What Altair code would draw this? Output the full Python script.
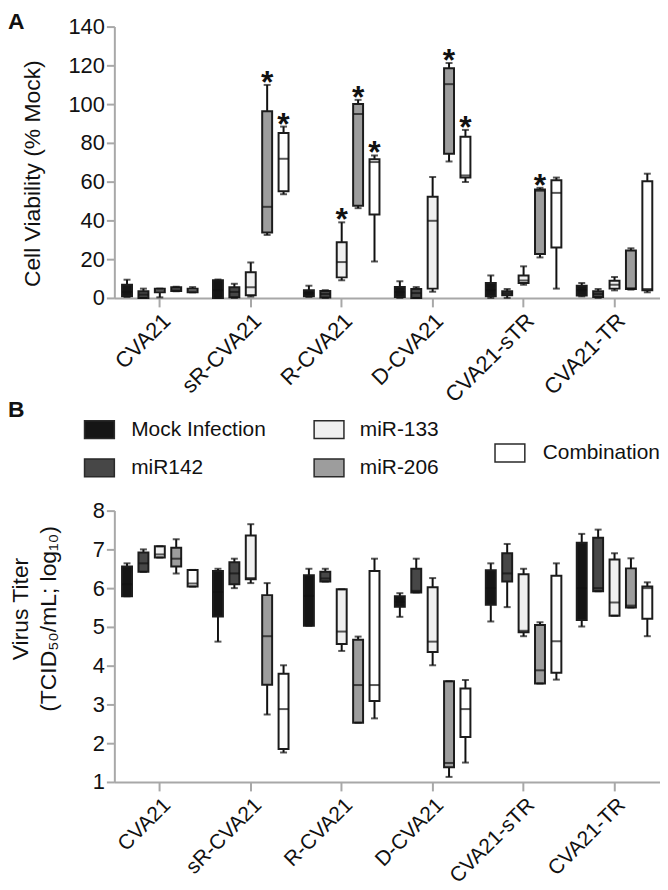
import altair as alt
import pandas as pd

FONT = "Liberation Sans"

groups = ["CVA21", "sR-CVA21", "R-CVA21", "D-CVA21", "CVA21-sTR", "CVA21-TR"]
series = ["Mock Infection", "miR142", "miR-133", "miR-206", "Combination"]
fills = ["#151515", "#474747", "#f0f0f0", "#9d9d9d", "#ffffff"]

# ---- Panel A: Cell viability (% Mock); group by group, series in order above
a_low = [0.5, 0.0, 0.3, 3.4, 2.9,
         0.0, 0.0, 0.7, 32.5, 53.5,
         0.5, 0.0, 9.1, 46.3, 18.8,
         0.0, 0.0, 3.2, 70.4, 59.8,
         0.0, 0.0, 6.8, 20.9, 4.8,
         0.8, 0.0, 3.9, 4.3, 2.9]
a_q1 = [0.9, 0.0, 2.9, 3.6, 2.9,
        0.0, 0.4, 1.4, 33.7, 55.0,
        0.9, 0.2, 10.6, 47.5, 43.1,
        0.5, 0.0, 4.8, 74.4, 62.1,
        0.9, 1.4, 7.7, 22.7, 26.0,
        1.2, 0.5, 4.8, 4.6, 3.9]
a_med = [3.0, 1.7, 3.9, 4.5, 3.9,
         4.0, 3.1, 5.5, 47.0, 71.8,
         2.5, 2.0, 18.5, 94.9, 70.1,
         3.0, 2.5, 39.8, 110.3, 63.2,
         4.0, 2.4, 9.0, 55.3, 54.2,
         4.0, 2.0, 6.8, 5.0, 4.6]
a_q3 = [6.8, 3.4, 4.8, 5.5, 4.8,
        9.1, 5.5, 13.2, 96.3, 85.1,
        3.9, 3.6, 28.7, 100.0, 71.6,
        5.6, 4.6, 52.2, 118.5, 83.2,
        7.7, 3.4, 11.6, 56.0, 60.7,
        6.3, 3.4, 8.9, 24.5, 60.2]
a_high = [9.4, 4.8, 4.8, 5.8, 5.6,
          9.5, 7.3, 18.3, 109.9, 88.4,
          6.3, 4.0, 39.0, 102.2, 73.5,
          8.6, 5.6, 62.4, 121.2, 86.7,
          11.6, 4.6, 16.3, 56.8, 62.1,
          7.7, 4.6, 10.8, 25.6, 64.1]
a_star = [0, 0, 0, 0, 0,
          0, 0, 0, 1, 1,
          0, 0, 1, 1, 1,
          0, 0, 0, 1, 1,
          0, 0, 0, 1, 0,
          0, 0, 0, 0, 0]

# ---- Panel B: Virus titer (log10 TCID50/mL)
b_low = [5.79, 6.42, 6.79, 6.38, 6.04,
         4.62, 6.00, 6.13, 2.74, 1.76,
         5.03, 6.17, 4.38, 2.53, 2.64,
         5.26, 5.89, 4.01, 1.13, 1.50,
         5.14, 5.51, 4.76, 3.54, 3.64,
         5.01, 5.92, 5.29, 5.50, 4.76]
b_q1 = [5.79, 6.42, 6.79, 6.56, 6.04,
        5.27, 6.10, 6.23, 3.51, 1.85,
        5.03, 6.17, 4.56, 2.53, 3.09,
        5.52, 5.89, 4.35, 1.38, 2.16,
        5.57, 6.17, 4.86, 3.54, 3.82,
        5.18, 5.92, 5.29, 5.50, 5.21]
b_med = [6.10, 6.64, 6.87, 6.76, 6.12,
         5.90, 6.38, 6.26, 4.76, 2.88,
         5.80, 6.25, 4.88, 3.50, 3.50,
         5.65, 5.93, 4.62, 1.49, 2.88,
         6.00, 6.38, 4.90, 3.88, 4.63,
         6.00, 6.00, 5.63, 5.55, 6.00]
b_q3 = [6.56, 6.92, 7.08, 7.04, 6.47,
        6.44, 6.67, 7.36, 5.82, 3.79,
        6.33, 6.42, 5.97, 4.67, 6.44,
        5.79, 6.50, 6.02, 3.60, 3.41,
        6.46, 6.90, 6.36, 5.05, 6.32,
        7.17, 7.30, 6.74, 6.51, 6.04]
b_high = [6.64, 7.00, 7.08, 7.26, 6.47,
          6.50, 6.76, 7.65, 6.13, 4.01,
          6.50, 6.50, 5.97, 4.75, 6.76,
          5.87, 6.76, 6.26, 3.60, 3.63,
          6.64, 7.14, 6.50, 5.12, 6.64,
          7.40, 7.51, 6.90, 6.77, 6.15]

a_ticks = [0, 20, 40, 60, 80, 100, 120, 140]
b_ticks = [1, 2, 3, 4, 5, 6, 7, 8]

a_title = ["Cell Viability (% Mock)"]
b_title = ["Virus Titer", "(TCID\u2085\u2080/mL; log\u2081\u2080)"]

W, H = 549, 273


def frame(lo, q1, med, q3, hi, star=None):
    d = pd.DataFrame({
        "group": [g for g in groups for _ in series],
        "series": [s for _ in groups for s in series],
        "lo": lo, "q1": q1, "med": med, "q3": q3, "hi": hi,
    })
    d["star"] = star if star is not None else [0] * len(d)
    return d


def panel(df, ydomain, yticks, xlabel_size):
    xenc = alt.X("group:N", sort=groups,
                 scale=alt.Scale(domain=groups, paddingInner=0, paddingOuter=0),
                 axis=alt.Axis(title=None, labelAngle=-45, tickSize=9,
                               labelPadding=3, labelFontSize=xlabel_size))
    xoff = alt.XOffset("series:N", sort=series,
                       scale=alt.Scale(domain=series, paddingInner=0.394, paddingOuter=0.47))
    yscale = alt.Scale(domain=ydomain, nice=False, zero=False)
    yaxis = alt.Axis(values=yticks, title=None, tickSize=8, labelPadding=2)

    def Y(f):
        return alt.Y(f"{f}:Q", scale=yscale, axis=yaxis)

    base = alt.Chart(df).encode(x=xenc, xOffset=xoff)
    whisk = base.mark_rule(color="#111111", strokeWidth=2).encode(y=Y("lo"), y2="hi:Q")
    box = base.mark_bar(stroke="#1c1c1c", strokeWidth=2).encode(
        y=Y("q1"), y2="q3:Q",
        color=alt.Color("series:N", scale=alt.Scale(domain=series, range=fills), legend=None))
    med = base.mark_tick(color="#111111", thickness=2, size=10).encode(y=Y("med"))
    cap_lo = base.mark_tick(color="#111111", thickness=2, size=7).encode(y=Y("lo"))
    cap_hi = base.mark_tick(color="#111111", thickness=2, size=7).encode(y=Y("hi"))
    layers = [whisk, box, med, cap_lo, cap_hi]
    if df["star"].sum() > 0:
        stars = alt.Chart(df[df["star"] == 1]).mark_text(
            text="*", fontSize=32, fontWeight="bold", font=FONT, color="#111111",
            baseline="alphabetic", dy=8).encode(x=xenc, xOffset=xoff, y=Y("hi"))
        layers.append(stars)
    return layers


def label(t, x, y, size=23, weight="bold", angle=0, align="left", baseline="alphabetic"):
    return alt.Chart(pd.DataFrame({"t": [t]})).mark_text(
        font=FONT, fontSize=size, fontWeight=weight, align=align, angle=angle,
        baseline=baseline, color="#111111").encode(
        x=alt.value(x), y=alt.value(y), text="t:N")


def ytitle(lines, xs, ys):
    return [label(t, x, y, size=23, weight="normal", angle=270, align="center",
                  baseline="middle") for t, x, y in zip(lines, xs, ys)]


# legend (belongs to panel B, drawn below panel A's axis labels)
leg_swatch_x = [-30, 201, 383]
leg_text_x = [17, 247, 431]
leg_rows = [405.5, 444.0, 429.0]
legend_layers = []
for i, (s, f) in enumerate(zip(series, fills)):
    col = i // 2
    yc = leg_rows[2] if i == 4 else leg_rows[i % 2]
    one = pd.DataFrame({"series": [s]})
    legend_layers.append(alt.Chart(one).mark_rect(
        fill=f, stroke="#2a2a2a", strokeWidth=1.5).encode(
        x=alt.value(leg_swatch_x[col]), x2=alt.value(leg_swatch_x[col] + 30),
        y=alt.value(yc - 9), y2=alt.value(yc + 9)))
    legend_layers.append(alt.Chart(one).mark_text(
        font=FONT, fontSize=21, align="left", baseline="middle", color="#111111").encode(
        x=alt.value(leg_text_x[col]), y=alt.value(yc), text="series:N"))

dfa = frame(a_low, a_q1, a_med, a_q3, a_high, a_star)
dfb = frame(b_low, b_q1, b_med, b_q3, b_high)

chart_a = alt.layer(
    *panel(dfa, [0, 140], a_ticks, 22),
    *ytitle(a_title, [-82], [148]),
    label("A", -107, 2), label("B", -107, 393), *legend_layers
).properties(width=W, height=H)

chart_b = alt.layer(
    *panel(dfb, [1, 8], b_ticks, 21),
    *ytitle(b_title, [-94, -66], [99, 109]),
).properties(width=W, height=H)

chart = alt.vconcat(chart_a, chart_b, spacing=22).properties(
    padding={"left": 0, "top": 0, "right": 0, "bottom": 0}
).configure_view(stroke=None).configure_axis(
    grid=False,
    domainColor="#a8a8a8", domainWidth=2,
    tickColor="#a8a8a8", tickWidth=2,
    labelFont=FONT, labelFontSize=22, labelColor="#111111",
)

chart.save("out.html", embed_options={"renderer": "svg", "actions": False})
